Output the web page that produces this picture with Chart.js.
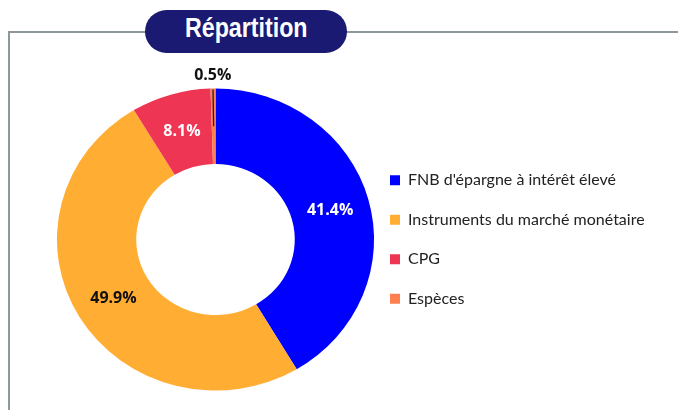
<!DOCTYPE html>
<html><head><meta charset="utf-8">
<script src="https://cdn.jsdelivr.net/npm/chart.js@4/dist/chart.umd.min.js"></script>
<style>
html,body{margin:0;padding:0;background:#fff;width:678px;height:410px;overflow:hidden;}
#frame{position:absolute;left:8px;top:31px;width:690px;height:420px;border-left:2px solid #8d979c;border-top:2px solid #8d979c;}
#title{position:absolute;left:145px;top:10px;width:202px;height:43px;background:#1a1a72;border-radius:22px;color:#fff;text-align:center;line-height:43px;}
#title span{display:inline-block;font:bold 27px "Liberation Sans",Arial,sans-serif;transform:scaleX(0.86);}
#wrap{position:absolute;left:0;top:0;width:678px;height:410px;}
</style></head>
<body>
<div id="frame"></div>
<div id="title"><span>Répartition</span></div>
<div id="wrap"><canvas id="c" width="678" height="410"></canvas></div>
<script>
const categories = ["FNB d'épargne à intérêt élevé", "Instruments du marché monétaire", "CPG", "Espèces"];
const values = [41.4, 49.9, 8.1, 0.5];
const valueLabels = ["41.4%", "49.9%", "8.1%", "0.5%"];
const sliceColors = ["#0000ff", "#ffad33", "#ef3554", "#ff7f4f"];
const labelColors = ["#ffffff", "#111111", "#ffffff", "#111111"];
const outsideLabel = [false, false, false, true];

const XS = 1.05;

const stretch = {
  id: 'stretch',
  beforeDatasetsDraw(chart) {
    const a = chart.getDatasetMeta(0).data[0];
    const ctx = chart.ctx;
    ctx.save();
    ctx.translate(a.x, a.y);
    ctx.scale(XS, 1);
    ctx.translate(-a.x, -a.y);
  },
  afterDatasetsDraw(chart) { chart.ctx.restore(); }
};

const pctLabels = {
  id: 'pctLabels',
  afterDatasetsDraw(chart) {
    const ctx = chart.ctx;
    const meta = chart.getDatasetMeta(0);
    meta.data.forEach((arc, i) => {
      const mid = (arc.startAngle + arc.endAngle) / 2;
      const cos = Math.cos(mid), sin = Math.sin(mid);
      let r;
      ctx.save();
      if (outsideLabel[i]) {
        ctx.strokeStyle = '#222';
        ctx.lineWidth = 1.3;
        ctx.beginPath();
        ctx.moveTo(arc.x + cos * (arc.outerRadius - 1) * XS, arc.y + sin * (arc.outerRadius - 1));
        ctx.lineTo(arc.x + cos * arc.outerRadius * 0.75 * XS, arc.y + sin * arc.outerRadius * 0.75);
        ctx.stroke();
        r = arc.outerRadius + 14;
      } else {
        r = (arc.innerRadius + arc.outerRadius) / 2;
      }
      const x = arc.x + cos * r * XS;
      const y = arc.y + sin * r + 1;
      ctx.font = 'bold 16px "Open Sans", Lato, sans-serif';
      ctx.fillStyle = labelColors[i];
      ctx.textAlign = 'center';
      ctx.textBaseline = 'middle';
      ctx.fillText(valueLabels[i], x, y);
      ctx.restore();
    });
  }
};

const LEG_PAD = 23.5;

const chart = new Chart(document.getElementById('c'), {
  type: 'doughnut',
  data: {
    labels: categories,
    datasets: [{ data: values, backgroundColor: sliceColors, borderWidth: 0 }]
  },
  options: {
    responsive: false,
    animation: false,
    devicePixelRatio: 1,
    cutout: '50%',
    layout: { padding: { left: 64.5, right: 20, top: 88.5, bottom: 19.5 } },
    plugins: {
      tooltip: { enabled: false },
      legend: {
        position: 'right',
        align: 'center',
        labels: {
          boxWidth: 10, boxHeight: 10, padding: LEG_PAD,
          color: '#222',
          font: { family: 'Lato', size: 16 }
        }
      }
    }
  },
  plugins: [stretch, pctLabels]
});

// place the legend so that the doughnut's area ends at x=366.5
const targetLeft = 366.5;
const dx = chart.legend.left - targetLeft;
chart.options.layout.padding.right += dx;
chart.update();
</script>
</body></html>
